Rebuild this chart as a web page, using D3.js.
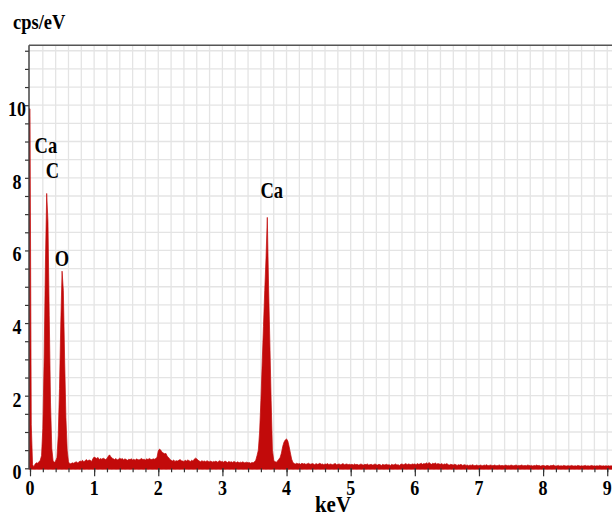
<!DOCTYPE html>
<html><head><meta charset="utf-8">
<script src="https://cdn.jsdelivr.net/npm/d3@7"></script>
<style>html,body{margin:0;padding:0;background:#fff;} svg{display:block}</style>
</head><body>
<script>
// ---- data ----
const startKeV = -0.02;
const stepKeV = 0.02;
const counts = [
  9.9, 9.9, 1.2, 0.1, 0.04, 0.12, 0.15, 0.14, 0.18, 0.22, 0.35,
  1.1, 3.0, 5.6, 7.57, 6.8, 4.2, 1.8, 0.55, 0.2, 0.17,
  0.2, 0.3, 0.9, 2.2, 4.0, 5.43, 4.9, 3.0, 1.4, 0.5,
  0.18, 0.12, 0.13, 0.15, 0.14, 0.16, 0.18, 0.15, 0.17, 0.2,
  0.19, 0.22, 0.18, 0.21, 0.24, 0.2, 0.23, 0.22, 0.19, 0.26,
  0.31, 0.29, 0.27, 0.3, 0.24, 0.27, 0.25, 0.28, 0.26, 0.24,
  0.27, 0.33, 0.37, 0.32, 0.28, 0.26, 0.24, 0.27, 0.23, 0.25,
  0.28, 0.25, 0.27, 0.23, 0.26, 0.24, 0.22, 0.25, 0.24, 0.26,
  0.23, 0.25, 0.22, 0.26, 0.24, 0.23, 0.25, 0.27, 0.24, 0.25,
  0.23, 0.26, 0.24, 0.27, 0.25, 0.24, 0.26, 0.25, 0.27, 0.3,
  0.48, 0.53, 0.5, 0.44, 0.42, 0.4, 0.41, 0.33, 0.3, 0.25,
  0.22, 0.2, 0.23, 0.19, 0.21, 0.2, 0.22, 0.24, 0.21, 0.2,
  0.19, 0.22, 0.2, 0.23, 0.21, 0.19, 0.22, 0.2, 0.25, 0.28,
  0.26, 0.22, 0.2, 0.18, 0.21, 0.19, 0.2, 0.18, 0.21, 0.19,
  0.18, 0.2, 0.17, 0.19, 0.18, 0.2, 0.17, 0.19, 0.21, 0.18,
  0.19, 0.17, 0.2, 0.18, 0.16, 0.19, 0.17, 0.18, 0.16, 0.19,
  0.17, 0.16, 0.18, 0.15, 0.17, 0.16, 0.18, 0.15, 0.16, 0.17,
  0.15, 0.16, 0.14, 0.16, 0.15, 0.18, 0.22, 0.35, 0.5, 1.0,
  1.86, 2.9, 3.9, 4.9, 5.8, 6.91, 5.0, 3.45, 1.86, 0.5,
  0.22, 0.18, 0.17, 0.2, 0.25, 0.3, 0.42, 0.6, 0.72, 0.78,
  0.81, 0.75, 0.6, 0.42, 0.25, 0.16, 0.13, 0.12, 0.14, 0.12,
  0.13, 0.11, 0.14, 0.12, 0.13, 0.11, 0.12, 0.14, 0.12, 0.11,
  0.13, 0.12, 0.1, 0.13, 0.11, 0.12, 0.14, 0.11, 0.12, 0.1,
  0.12, 0.11, 0.13, 0.1, 0.12, 0.11, 0.1, 0.12, 0.13, 0.1,
  0.11, 0.12, 0.1, 0.11, 0.13, 0.1, 0.11, 0.12, 0.1, 0.11,
  0.1, 0.11, 0.09, 0.12, 0.1, 0.11, 0.09, 0.1, 0.12, 0.1,
  0.09, 0.11, 0.1, 0.12, 0.09, 0.1, 0.11, 0.09, 0.1, 0.12,
  0.1, 0.09, 0.11, 0.1, 0.08, 0.11, 0.09, 0.1, 0.11, 0.09,
  0.1, 0.08, 0.11, 0.09, 0.1, 0.12, 0.09, 0.1, 0.08, 0.11,
  0.12, 0.1, 0.11, 0.13, 0.1, 0.12, 0.11, 0.1, 0.12, 0.11,
  0.12, 0.1, 0.13, 0.11, 0.12, 0.14, 0.11, 0.13, 0.12, 0.15,
  0.12, 0.16, 0.13, 0.11, 0.14, 0.12, 0.15, 0.11, 0.13, 0.12,
  0.11, 0.13, 0.1, 0.12, 0.11, 0.13, 0.1, 0.09, 0.11, 0.1,
  0.09, 0.11, 0.1, 0.08, 0.1, 0.09, 0.11, 0.08, 0.09, 0.1,
  0.08, 0.09, 0.07, 0.09, 0.08, 0.1, 0.08, 0.07, 0.09, 0.08,
  0.07, 0.09, 0.08, 0.07, 0.09, 0.08, 0.1, 0.07, 0.08, 0.09,
  0.08, 0.07, 0.09, 0.08, 0.07, 0.08, 0.09, 0.07, 0.08, 0.07,
  0.08, 0.09, 0.07, 0.08, 0.07, 0.09, 0.08, 0.07, 0.08, 0.09,
  0.07, 0.08, 0.07, 0.09, 0.08, 0.07, 0.08, 0.07, 0.09, 0.08,
  0.07, 0.08, 0.06, 0.08, 0.07, 0.09, 0.07, 0.08, 0.06, 0.07,
  0.08, 0.07, 0.06, 0.08, 0.07, 0.06, 0.08, 0.07, 0.09, 0.07,
  0.06, 0.07, 0.08, 0.06, 0.07, 0.06, 0.08, 0.07, 0.06, 0.07,
  0.07, 0.06, 0.08, 0.07, 0.06, 0.07, 0.06, 0.08, 0.07, 0.06,
  0.07, 0.06, 0.07, 0.08, 0.06, 0.07, 0.06, 0.07, 0.08, 0.06,
  0.07, 0.06, 0.07, 0.06, 0.08, 0.07, 0.06, 0.07, 0.06, 0.07,
  0.06, 0.07, 0.06, 0.07, 0.06
];
const xTickValues = [0, 1, 2, 3, 4, 5, 6, 7, 8, 9];
const xTickLabels = ["0", "1", "2", "3", "4", "5", "6", "7", "8", "9"];
const yTickValues = [0, 2, 4, 6, 8, 10];
const yTickLabels = ["0", "2", "4", "6", "8", "10"];
const peakNames = ["Ca", "C", "O", "Ca"];
const peakKeV = [0.248, 0.348, 0.499, 3.77];
const peakCps = [8.68, 7.99, 5.58, 7.44];
const yTitle = "cps/eV";
const xTitle = "keV";

// ---- layout ----
const W = 612, H = 515;
const pLeft = 29, pRight = 612, pTop = 45.3, pBottom = 468.3;
const x = d3.scaleLinear().domain([-0.0156, 9.0744]).range([pLeft, pRight]);
const y = d3.scaleLinear().domain([0, 11.65]).range([pBottom, pTop]);
const FONT = "'Liberation Serif','Times New Roman',Times,serif";

const svg = d3.select("body").append("svg").attr("width", W).attr("height", H);

// grid
const gridX = d3.range(0.2, 9.1, 0.2);
const gridY = d3.range(0.5, 11.6, 0.5);
const grid = svg.append("g").attr("stroke", "#e4e4e4").attr("stroke-width", 1.3);
grid.selectAll("line.gx").data(gridX).join("line").attr("class", "gx")
  .attr("x1", d => x(d)).attr("x2", d => x(d)).attr("y1", pTop).attr("y2", pBottom);
grid.selectAll("line.gy").data(gridY).join("line").attr("class", "gy")
  .attr("x1", pLeft).attr("x2", pRight).attr("y1", d => y(d)).attr("y2", d => y(d));

// x axis line
svg.append("line").attr("x1", pLeft).attr("x2", pRight).attr("y1", pBottom).attr("y2", pBottom)
  .attr("stroke", "#444").attr("stroke-width", 1.2);

// spectrum
svg.append("clipPath").attr("id", "clip").append("rect")
  .attr("x", pLeft).attr("y", pTop).attr("width", pRight - pLeft).attr("height", pBottom - pTop + 2);
const area = d3.area()
  .x((d, i) => x(startKeV + i * stepKeV))
  .y0(pBottom + 1)
  .y1(d => y(d));
svg.append("path").datum(counts).attr("d", area)
  .attr("fill", "#c20a0a").attr("stroke", "#c20a0a").attr("stroke-width", 0.7)
  .attr("clip-path", "url(#clip)");

// x ticks
const xMinor = svg.append("g").attr("transform", `translate(0,${pBottom})`)
  .call(d3.axisBottom(x).tickValues(d3.range(0, 9.01, 0.2)).tickSize(4).tickFormat(""));
const xMajor = svg.append("g").attr("transform", `translate(0,${pBottom})`)
  .call(d3.axisBottom(x).tickValues(xTickValues).tickSize(8).tickFormat(""));
[xMinor, xMajor].forEach(g => {
  g.select(".domain").remove();
  g.selectAll(".tick line").attr("stroke", "#333").attr("stroke-width", 1.2);
});

// y ticks
const yAx = svg.append("g").attr("transform", `translate(${pLeft},0)`)
  .call(d3.axisLeft(y).tickValues(d3.range(0, 11.6, 0.5)).tickSize(4).tickFormat(""));
yAx.select(".domain").remove();
yAx.selectAll(".tick line").attr("stroke", "#333").attr("stroke-width", 1.2);

// y axis line and top border
svg.append("line").attr("x1", pLeft).attr("x2", pLeft).attr("y1", pTop).attr("y2", pBottom + 1)
  .attr("stroke", "#444").attr("stroke-width", 1.5);
svg.append("line").attr("x1", pLeft).attr("x2", pRight).attr("y1", pTop).attr("y2", pTop)
  .attr("stroke", "#555").attr("stroke-width", 1.5);

// text helper
function label(tx, ty, str, size, sy, anchor) {
  svg.append("g").attr("transform", `translate(${tx},${ty})`)
    .append("text").attr("transform", `scale(1,${sy})`)
    .attr("text-anchor", anchor).attr("font-family", FONT).attr("font-weight", "bold")
    .attr("font-size", size).attr("fill", "#000").text(str);
}

xTickValues.forEach((v, i) => label(x(v), 495, xTickLabels[i], 18, 1.12, "middle"));
yTickValues.forEach((v, i) => label(17, y(v) + 11, yTickLabels[i], 18, 1.12, "middle"));
peakNames.forEach((n, i) => label(x(peakKeV[i]), y(peakCps[i]), n, 18.5, 1.28, "middle"));
label(13, 28.5, yTitle, 18.5, 1.12, "start");
label(333, 511.5, xTitle, 21, 1.1, "middle");
</script>
</body></html>
